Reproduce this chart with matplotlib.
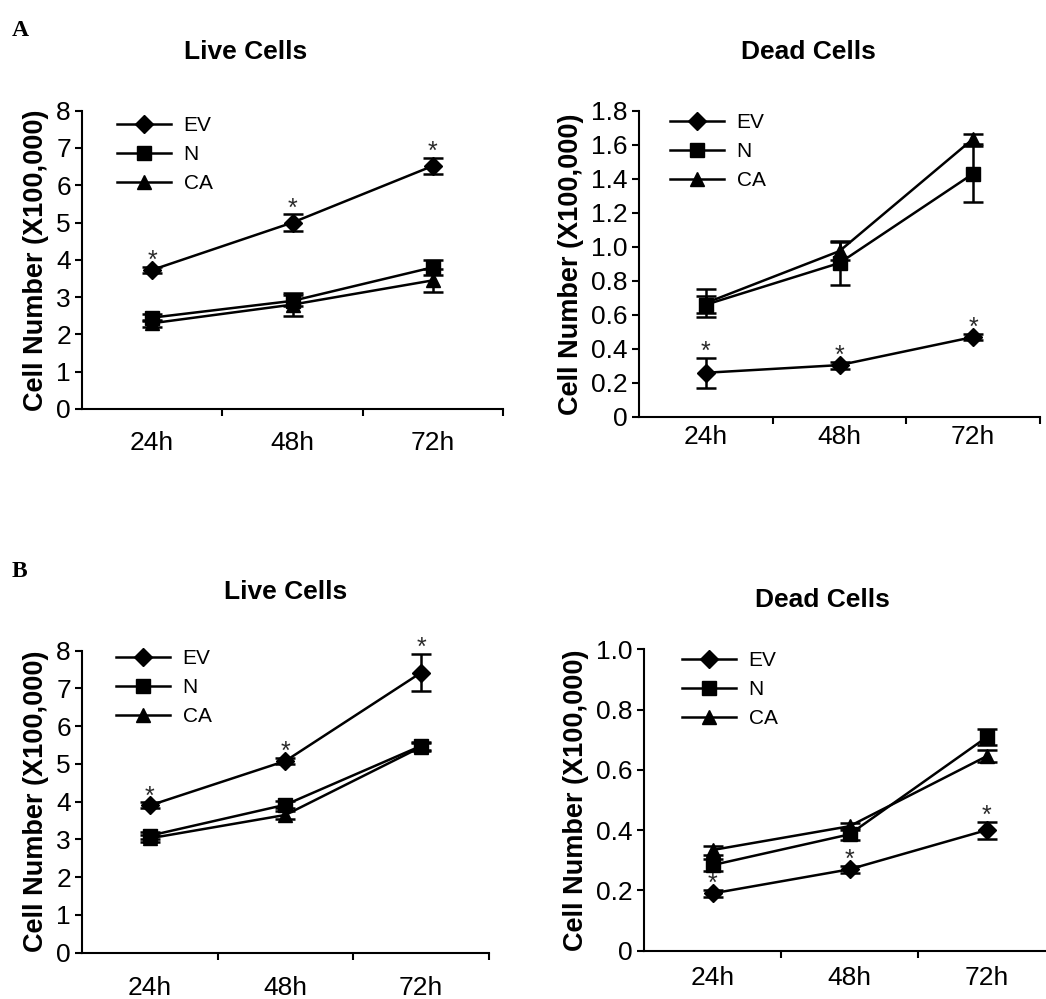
import matplotlib
matplotlib.use("Agg")
import matplotlib.pyplot as plt
from matplotlib.lines import Line2D
import numpy as np

plt.rcParams['font.family'] = ['Liberation Sans', 'DejaVu Sans']

times = ['24h', '48h', '72h']
series_names = ['EV', 'N', 'CA']

# Panel A - live cells
a_live_ev = [3.73, 5.00, 6.52]
a_live_ev_err = [0.08, 0.22, 0.22]
a_live_n = [2.45, 2.90, 3.80]
a_live_n_err = [0.10, 0.15, 0.20]
a_live_ca = [2.30, 2.80, 3.45]
a_live_ca_err = [0.10, 0.30, 0.30]

# Panel A - dead cells
a_dead_ev = [0.26, 0.305, 0.47]
a_dead_ev_err = [0.088, 0.02, 0.02]
a_dead_n = [0.66, 0.905, 1.43]
a_dead_n_err = [0.05, 0.127, 0.165]
a_dead_ca = [0.67, 0.975, 1.635]
a_dead_ca_err = [0.08, 0.055, 0.03]

# Panel B - live cells
b_live_ev = [3.90, 5.08, 7.42]
b_live_ev_err = [0.08, 0.08, 0.50]
b_live_n = [3.10, 3.92, 5.48]
b_live_n_err = [0.10, 0.10, 0.10]
b_live_ca = [3.03, 3.65, 5.45]
b_live_ca_err = [0.10, 0.10, 0.10]

# Panel B - dead cells
b_dead_ev = [0.19, 0.27, 0.40]
b_dead_ev_err = [0.012, 0.012, 0.028]
b_dead_n = [0.284, 0.386, 0.708]
b_dead_n_err = [0.02, 0.02, 0.027]
b_dead_ca = [0.334, 0.413, 0.645]
b_dead_ca_err = [0.015, 0.012, 0.02]

live_yticks = [0, 1, 2, 3, 4, 5, 6, 7, 8]
live_ylabels = ['0', '1', '2', '3', '4', '5', '6', '7', '8']
a_dead_yticks = [0, 0.2, 0.4, 0.6, 0.8, 1.0, 1.2, 1.4, 1.6, 1.8]
a_dead_ylabels = ['0', '0.2', '0.4', '0.6', '0.8', '1.0', '1.2', '1.4', '1.6', '1.8']
b_dead_yticks = [0, 0.2, 0.4, 0.6, 0.8, 1.0]
b_dead_ylabels = ['0', '0.2', '0.4', '0.6', '0.8', '1.0']

W, H = 1046, 999
fig = plt.figure(figsize=(W / 100, H / 100), dpi=100)


def ax_px(left, right, top, bottom):
    return fig.add_axes([left / W, (H - bottom) / H, (right - left) / W, (bottom - top) / H])


markers = ['D', 's', '^']
msizes = [9, 9.5, 10.5]


def panel(ax, data, errs, yticks, ylabels, ymax, xpad, leg_xy):
    x = np.arange(len(times))
    handles = []
    for i, (vals, err) in enumerate(zip(data, errs)):
        ax.errorbar(x, vals, yerr=err, color='black', lw=1.8, marker=markers[i],
                    ms=msizes[i], capsize=7, capthick=1.8, elinewidth=1.8,
                    clip_on=False, zorder=3 + i)
        handles.append(Line2D([], [], color='black', lw=1.8, marker=markers[i],
                              ms=msizes[i], label=series_names[i]))
    # significance asterisks above EV
    ev, everr = data[0], errs[0]
    for xi in x:
        ax.annotate('*', (xi, ev[xi] + everr[xi]), xytext=(0, -1),
                    textcoords='offset points', ha='center', va='baseline',
                    fontsize=18, color='#2a2a2a')
    ax.set_xlim(-0.5, 2.5)
    ax.set_ylim(0, ymax)
    ax.set_yticks(yticks)
    ax.set_yticklabels(ylabels)
    ax.set_xticks([0.5, 1.5, 2.5])
    ax.set_xticklabels([])
    ax.set_xticks(x, minor=True)
    ax.set_xticklabels(times, minor=True)
    ax.tick_params(axis='x', which='minor', length=0, pad=xpad, labelsize=19)
    ax.tick_params(axis='x', which='major', length=5, width=1.5, direction='out')
    ax.tick_params(axis='y', length=5, width=1.5, direction='out', pad=3, labelsize=19)
    for s in ['top', 'right']:
        ax.spines[s].set_visible(False)
    for s in ['left', 'bottom']:
        ax.spines[s].set_linewidth(1.5)
    ax.set_ylabel('Cell Number (X100,000)', fontsize=19.5, fontweight='bold', labelpad=5)
    ax.legend(handles=handles, loc='upper left',
              bbox_to_anchor=(leg_xy[0] / W, 1 - leg_xy[1] / H),
              bbox_transform=fig.transFigure, frameon=False, fontsize=15,
              handlelength=2.6, handletextpad=0.6, labelspacing=0.48,
              borderpad=0, borderaxespad=0, numpoints=1)
    return ax


ax1 = ax_px(82, 503, 110.7, 409)
panel(ax1, [a_live_ev, a_live_n, a_live_ca], [a_live_ev_err, a_live_n_err, a_live_ca_err],
      live_yticks, live_ylabels, 8, 16, (117, 116))
ax2 = ax_px(639, 1040, 110.7, 417)
panel(ax2, [a_dead_ev, a_dead_n, a_dead_ca], [a_dead_ev_err, a_dead_n_err, a_dead_ca_err],
      a_dead_yticks, a_dead_ylabels, 1.8, 6, (670, 113))
ax3 = ax_px(82, 489, 650.7, 952.7)
panel(ax3, [b_live_ev, b_live_n, b_live_ca], [b_live_ev_err, b_live_n_err, b_live_ca_err],
      live_yticks, live_ylabels, 8, 17, (116, 649))
ax4 = ax_px(644, 1055, 649.3, 950.7)
panel(ax4, [b_dead_ev, b_dead_n, b_dead_ca], [b_dead_ev_err, b_dead_n_err, b_dead_ca_err],
      b_dead_yticks, b_dead_ylabels, 1.0, 11, (682, 651))


def ftext(x, y, s, **kw):
    fig.text(x / W, 1 - y / H, s, **kw)


ftext(246, 52, 'Live Cells', ha='center', va='center', fontsize=19, fontweight='bold')
ftext(808, 52, 'Dead Cells', ha='center', va='center', fontsize=19, fontweight='bold')
ftext(286, 592, 'Live Cells', ha='center', va='center', fontsize=19, fontweight='bold')
ftext(822, 600, 'Dead Cells', ha='center', va='center', fontsize=19, fontweight='bold')
ftext(12, 36, 'A', ha='left', va='baseline', fontsize=17, fontweight='bold', family='Liberation Serif')
ftext(12, 577, 'B', ha='left', va='baseline', fontsize=17, fontweight='bold', family='Liberation Serif')

fig.savefig('out.png', dpi=100)
